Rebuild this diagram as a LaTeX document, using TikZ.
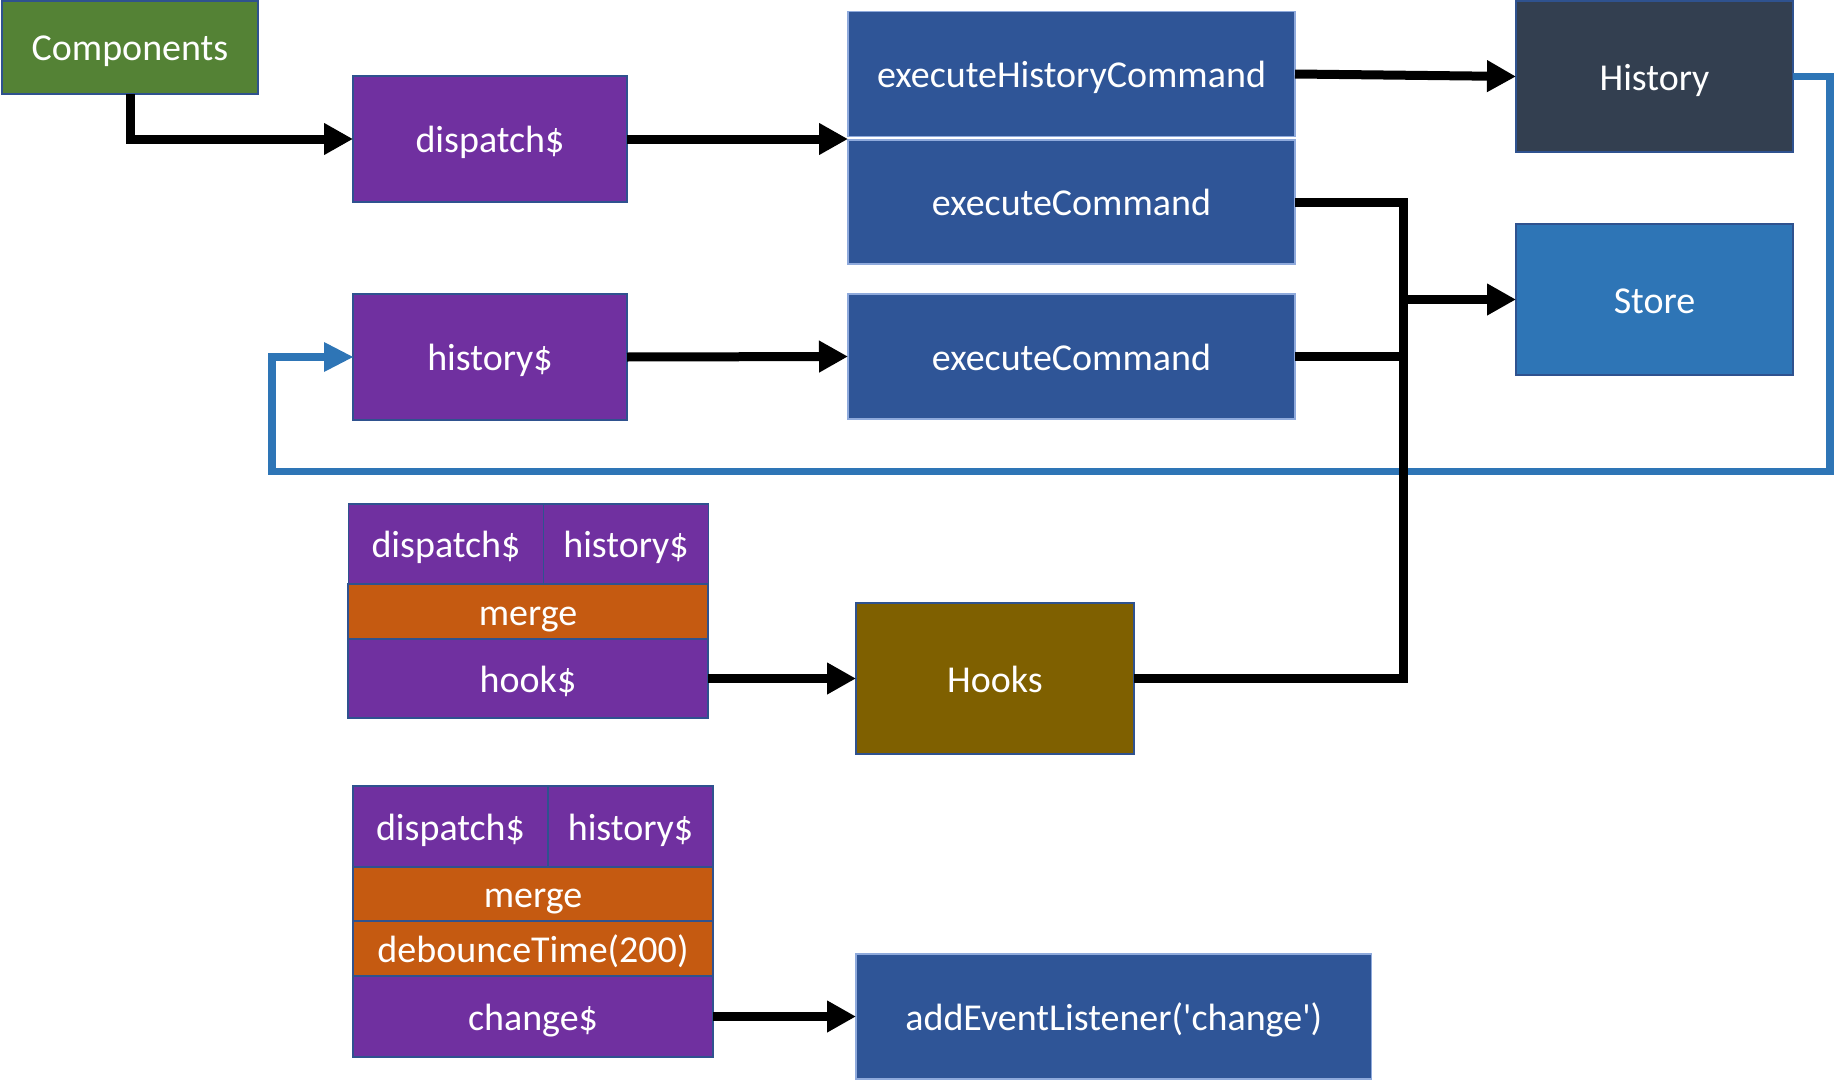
\documentclass[tikz,border=0pt]{standalone}
\usepackage{fontspec}
\setmainfont{Carlito}
\usetikzlibrary{arrows.meta}
\definecolor{cgreen}{HTML}{548235}
\definecolor{cpurple}{HTML}{7030A0}
\definecolor{corange}{HTML}{C55A11}
\definecolor{cblue}{HTML}{2F5597}
\definecolor{cdark}{HTML}{333F50}
\definecolor{cstore}{HTML}{2E75B6}
\definecolor{chooks}{HTML}{7F6000}
\definecolor{cborder}{HTML}{2F528F}
\definecolor{clight}{HTML}{8FAADC}
\tikzset{
  box/.style={rectangle, inner sep=0pt, outer sep=0pt, draw=cborder, line width=1.3pt,
    text=white, font=\fontsize{38}{45}\selectfont, text height=30pt, text depth=3pt},
  lbox/.style={box, draw=clight},
  conn/.style={line width=9pt, black, line join=miter},
  tip/.style={-{Triangle[length=29pt,width=30pt]}},
  fb/.style={line width=7.5pt, cstore, line join=miter},
}
\begin{document}
\begin{tikzpicture}[x=1pt,y=-1pt]
\useasboundingbox (0,0) rectangle (1837,1081);
% main boxes
\node[box, fill=cgreen, minimum width=256, minimum height=93] (comp) at (130,47.5) {Components};
\node[box, fill=cpurple, minimum width=274, minimum height=126] (disp) at (490,139) {dispatch\$};
\node[box, fill=cpurple, minimum width=274, minimum height=126] (hist) at (490,357) {history\$};
\node[lbox, fill=cblue, minimum width=447, minimum height=125] (ehc) at (1071.5,74) {executeHistoryCommand};
\node[lbox, fill=cblue, minimum width=447, minimum height=124] (ec1) at (1071.5,202) {executeCommand};
\node[lbox, fill=cblue, minimum width=447, minimum height=125] (ec2) at (1071.5,356.5) {executeCommand};
\node[box, fill=cdark, minimum width=277, minimum height=151] (History) at (1654.5,76.5) {History};
\node[box, fill=cstore, minimum width=277, minimum height=151] (Store) at (1654.5,299.5) {Store};
% stack 1
\node[box, fill=cpurple, minimum width=195.5, minimum height=80] (s1d) at (446,544) {dispatch\$};
\node[box, fill=cpurple, minimum width=164.5, minimum height=80] (s1h) at (626,544) {history\$};
\node[box, fill=corange, minimum width=360, minimum height=55] (s1m) at (528,611.5) {merge};
\node[box, fill=cpurple, minimum width=360, minimum height=79] (s1k) at (528,678.5) {hook\$};
\node[box, fill=chooks, minimum width=278, minimum height=151] (Hooks) at (995,678.5) {Hooks};
% stack 2
\node[box, fill=cpurple, minimum width=195, minimum height=81] (s2d) at (450.5,826.5) {dispatch\$};
\node[box, fill=cpurple, minimum width=165, minimum height=81] (s2h) at (630.5,826.5) {history\$};
\node[box, fill=corange, minimum width=360, minimum height=54] (s2m) at (533,894) {merge};
\node[box, fill=corange, minimum width=360, minimum height=55] (s2b) at (533,948.5) {debounceTime(200)};
\node[box, fill=cpurple, minimum width=360, minimum height=81] (s2c) at (533,1016.5) {change\$};
\node[lbox, fill=cblue, minimum width=515.5, minimum height=125] (ael) at (1113.75,1016.5) {addEventListener(\textquotesingle change\textquotesingle)};
% coordinates
\coordinate (fbR) at (1830,471.5);
\coordinate (fbL) at (272,471.5);
\coordinate (jH) at (1403,678.5);
\coordinate (inE) at (848,139);
% feedback (blue)
\draw[fb] (History.east) -| (fbR) -- (fbL) |- ([xshift=-28pt]hist.west);
\fill[cstore] (hist.west) -- ++(-29,-15) -- ++(0,30) -- cycle;
% black connectors
\draw[conn, tip] (comp.south) |- (disp.west);
\draw[conn, tip] (disp.east) -- (inE);
\draw[conn, tip] (hist.east) -- (ec2.west);
\draw[conn, tip] (ehc.east) -- (History.west);
\draw[conn] (ec1.east) -| (jH) -- (Hooks.east);
\draw[conn] (ec2.east) -- (ec2.east -| jH);
\draw[conn, tip] (jH |- Store.west) -- (Store.west);
\draw[conn, tip] (s1k.east) -- (Hooks.west);
\draw[conn, tip] (s2c.east) -- (ael.west);
\end{tikzpicture}
\end{document}
